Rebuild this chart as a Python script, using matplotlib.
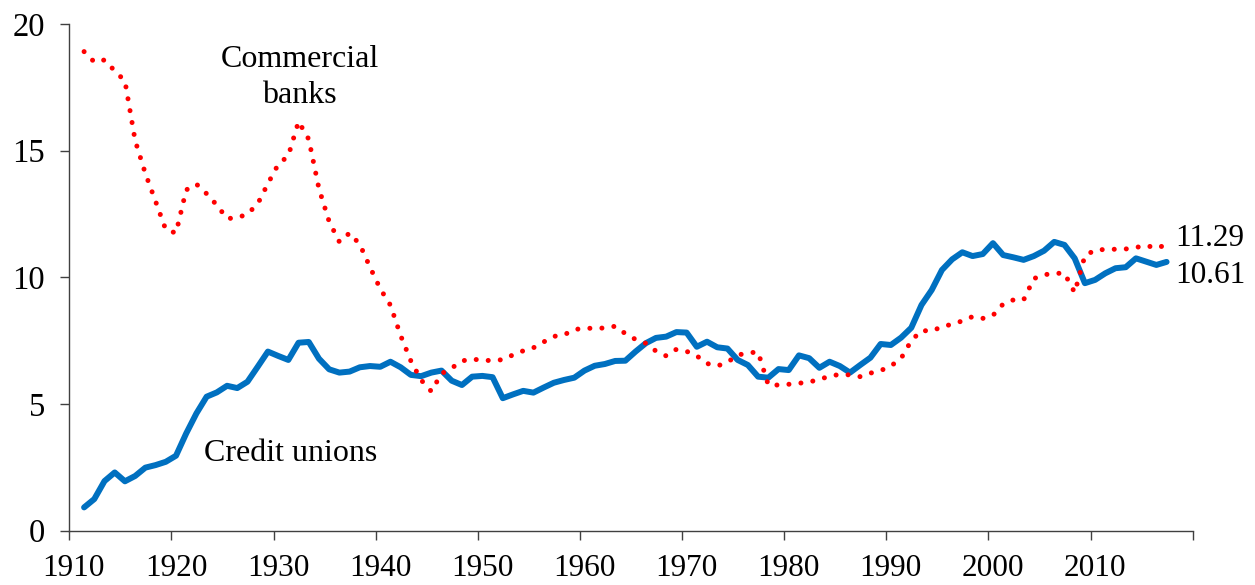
import numpy as np
import matplotlib
matplotlib.use('Agg')
import matplotlib.pyplot as plt

plt.rcParams['font.family'] = ['Liberation Serif', 'DejaVu Serif']

# Annual data, 1911-2017
years = np.arange(1911, 2018)

credit_unions = [
    0.92, 1.25, 1.96, 2.30, 1.95, 2.16, 2.49, 2.59, 2.72, 2.96,   # 1911-1920
    3.84, 4.63, 5.29, 5.46, 5.72, 5.63, 5.88, 6.47, 7.07, 6.90,   # 1921-1930
    6.74, 7.42, 7.45, 6.79, 6.37, 6.24, 6.28, 6.45, 6.50, 6.47,   # 1931-1940
    6.67, 6.45, 6.15, 6.10, 6.24, 6.32, 5.92, 5.75, 6.08, 6.11,   # 1941-1950
    6.06, 5.23, 5.38, 5.52, 5.45, 5.65, 5.84, 5.95, 6.04, 6.32,   # 1951-1960
    6.51, 6.58, 6.70, 6.71, 7.07, 7.40, 7.61, 7.66, 7.84, 7.82,   # 1961-1970
    7.26, 7.46, 7.24, 7.19, 6.74, 6.54, 6.08, 6.04, 6.38, 6.34,   # 1971-1980
    6.92, 6.81, 6.43, 6.67, 6.50, 6.24, 6.54, 6.83, 7.37, 7.33,   # 1981-1990
    7.62, 8.01, 8.91, 9.50, 10.29, 10.71, 10.99, 10.84, 10.92, 11.35,  # 1991-2000
    10.88, 10.79, 10.69, 10.84, 11.05, 11.40, 11.28, 10.75, 9.77, 9.90,  # 2001-2010
    10.16, 10.36, 10.40, 10.75, 10.62, 10.49, 10.61,              # 2011-2017
]

commercial_banks = [
    18.91, 18.50, 18.58, 18.15, 17.75, 15.40, 14.10, 13.00, 11.88, 11.75,  # 1911-1920
    13.45, 13.68, 13.30, 12.85, 12.32, 12.35, 12.50, 12.90, 13.70, 14.45,  # 1921-1930
    14.80, 16.15, 15.45, 13.50, 12.20, 11.40, 11.75, 11.30, 10.40, 9.55,   # 1931-1940
    8.90, 7.70, 6.70, 5.95, 5.50, 6.20, 6.42, 6.70, 6.78, 6.72,            # 1941-1950
    6.72, 6.75, 6.94, 7.10, 7.22, 7.45, 7.67, 7.73, 7.94, 7.99,            # 1951-1960
    7.99, 8.00, 8.07, 7.78, 7.55, 7.40, 7.09, 6.90, 7.16, 7.08,            # 1961-1970
    6.90, 6.60, 6.50, 6.65, 6.93, 7.02, 7.05, 5.75, 5.75, 5.78,            # 1971-1980
    5.82, 5.87, 5.97, 6.10, 6.17, 6.15, 6.08, 6.22, 6.32, 6.50,            # 1981-1990
    6.80, 7.50, 7.90, 7.88, 8.05, 8.15, 8.28, 8.45, 8.38, 8.50,            # 1991-2000
    8.95, 9.11, 9.11, 9.95, 10.10, 10.16, 10.16, 9.40, 10.85, 11.08,       # 2001-2010
    11.10, 11.11, 11.12, 11.18, 11.26, 11.15, 11.29,                       # 2011-2017
]

x_ticks = list(range(1910, 2021, 10))
x_labels = [str(t) for t in x_ticks[:-1]]
y_ticks = [0, 5, 10, 15, 20]

BLUE = '#0070C0'
RED = '#FF0000'
AXIS_COLOR = '#404040'
MID = 0.45  # points and year labels sit mid-year on the date axis

fig = plt.figure(figsize=(12.55, 5.85), dpi=100)
ax = fig.add_axes([0.0552, 0.0928, 0.8951, 0.8662])

x = years + MID

ax.plot(x, credit_unions, color=BLUE, linewidth=4.3, solid_joinstyle='round',
        solid_capstyle='round')
ax.plot(x, commercial_banks, color=RED, linewidth=3.6, dashes=(0.01, 2.4),
        dash_capstyle='round')

ax.set_xlim(1910, 2020)
ax.set_ylim(0, 20)

# tick marks on the decade, labels shifted to mid-year
ax.set_xticks(x_ticks)
ax.set_xticklabels([''] * len(x_ticks))
ax.set_xticks([t + MID for t in x_ticks[:-1]], minor=True)
ax.set_xticklabels(x_labels, minor=True)
ax.set_yticks(y_ticks)

for side in ['top', 'right']:
    ax.spines[side].set_visible(False)
for side in ['left', 'bottom']:
    ax.spines[side].set_color(AXIS_COLOR)
    ax.spines[side].set_linewidth(1.0)

ax.tick_params(axis='x', which='major', direction='out', length=6.5,
               width=1.0, color=AXIS_COLOR)
ax.tick_params(axis='x', which='minor', length=0, labelsize=22.5, pad=16.5)
ax.tick_params(axis='y', direction='out', length=6.5, width=1.0,
               color=AXIS_COLOR, labelsize=23.5, pad=11)

# series labels
ax.text(1932.55, 18.32, 'Commercial', fontsize=23, ha='center', va='baseline')
ax.text(1932.55, 16.90, 'banks', fontsize=23, ha='center', va='baseline')
ax.text(1923.15, 2.76, 'Credit unions', fontsize=23, ha='left', va='baseline')

# end values
ax.text(2018.28, 11.22, '11.29', fontsize=22.5, ha='left', va='baseline')
ax.text(2018.28, 9.79, '10.61', fontsize=22.5, ha='left', va='baseline')

fig.savefig('out.png', dpi=100)
